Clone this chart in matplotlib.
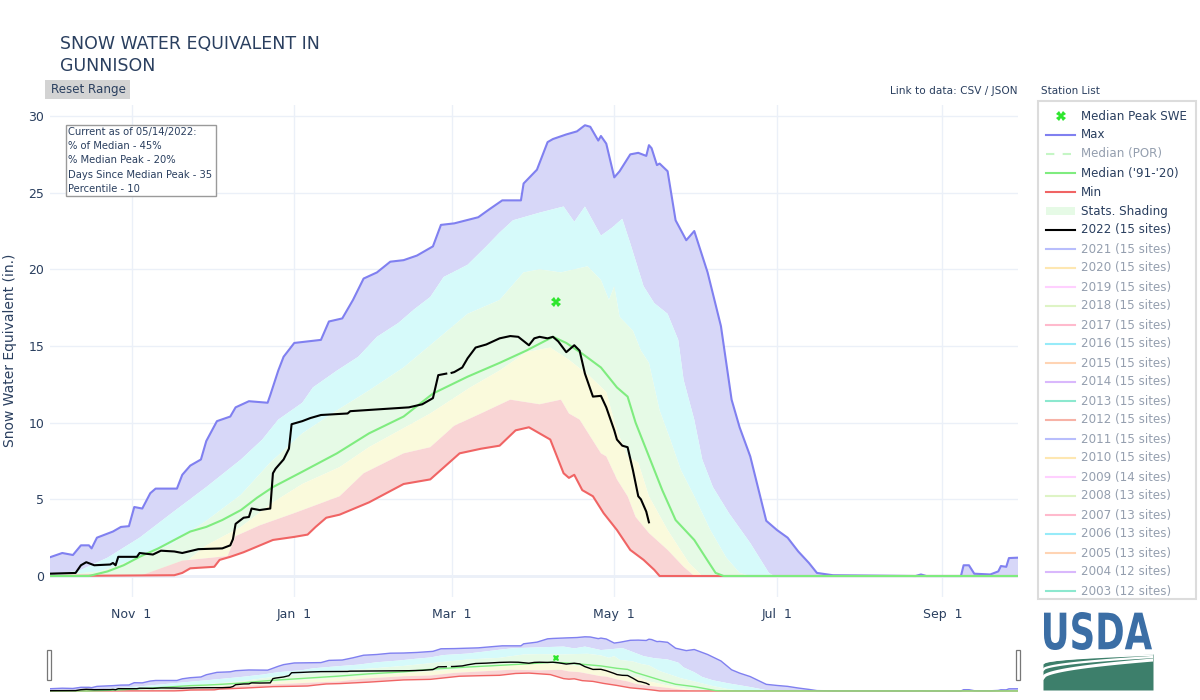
"""Snow water equivalent chart for the Gunnison basin (water year 2022)."""

import numpy as np
import matplotlib

matplotlib.use("Agg")

import matplotlib.pyplot as plt
import matplotlib.dates as mdates
from matplotlib.font_manager import FontProperties
from matplotlib.lines import Line2D
from matplotlib.patches import PathPatch, Rectangle
from matplotlib.textpath import TextPath
from matplotlib.transforms import Affine2D

plt.rcParams["font.family"] = ["DejaVu Sans"]

WY_START = np.datetime64("2021-10-01")

# --- data: days since Oct 1 2021 -> SWE (in.) ---
max_day = [0, 5, 9, 12, 15, 16, 18, 24, 27, 30, 32, 35, 38, 40, 48, 50, 53, 57, 59, 63,
           68, 70, 75, 82, 83, 86, 88, 92, 102, 105, 110, 114, 118, 123, 128, 133, 138,
           144, 147, 152, 161, 165, 170, 177, 178, 183, 187, 189, 194, 198, 201, 203,
           206, 207, 209, 212, 214, 218, 221, 224, 225, 226, 228, 229, 232, 235, 239,
           242, 247, 252, 256, 259, 263, 269, 273, 277, 281, 285, 288, 294, 325, 327,
           329, 342, 343, 345, 347, 353, 356, 357, 359, 360, 364]
max_swe = [1.2, 1.5, 1.37, 2.0, 2.0, 1.8, 2.5, 2.9, 3.2, 3.25, 4.5, 4.4, 5.4, 5.7, 5.7,
           6.6, 7.2, 7.6, 8.8, 10.1, 10.4, 11.0, 11.4, 11.3, 11.8, 13.4, 14.3, 15.2, 15.4,
           16.6, 16.8, 18.0, 19.4, 19.8, 20.5, 20.6, 20.9, 21.5, 22.9, 23.0, 23.4, 23.9,
           24.5, 24.5, 25.6, 26.5, 28.3, 28.5, 28.8, 29.0, 29.4, 29.3, 28.4, 28.7, 28.2,
           26.0, 26.4, 27.5, 27.6, 27.4, 28.1, 27.9, 26.8, 26.9, 26.4, 23.2, 21.9, 22.5,
           19.8, 16.3, 11.5, 9.7, 7.8, 3.6, 3.0, 2.5, 1.6, 0.85, 0.2, 0.05, 0.0, 0.1, 0.0,
           0.0, 0.7, 0.7, 0.15, 0.1, 0.3, 0.65, 0.6, 1.17, 1.2]

p90_day = [0, 12, 22, 34, 46, 59, 72, 80, 86, 95, 99, 108, 116, 123, 131, 137, 143, 148,
           157, 164, 169, 174, 184, 193, 197, 201, 207, 211, 215, 218, 223, 227, 232, 236,
           238, 242, 245, 249, 255, 263, 270, 272, 364]
p90_swe = [0.0, 0.4, 1.2, 2.5, 4.1, 5.8, 7.6, 8.9, 10.2, 11.3, 12.3, 13.4, 14.3, 15.6,
           16.5, 17.4, 18.2, 19.5, 20.3, 21.5, 22.4, 23.2, 23.7, 24.1, 23.1, 24.1, 22.2,
           22.7, 23.3, 21.7, 18.9, 17.8, 17.1, 15.4, 12.8, 10.2, 7.6, 5.8, 4.1, 2.15, 0.2,
           0.0, 0.0]

p70_day = [0, 19, 34, 46, 59, 72, 83, 95, 108, 120, 133, 144, 157, 169, 178, 184, 192,
           202, 207, 210, 212, 214, 219, 222, 225, 229, 233, 237, 242, 248, 254, 259, 263,
           364]
p70_swe = [0.0, 0.3, 1.2, 2.1, 3.6, 5.3, 7.4, 9.3, 10.8, 12.1, 13.6, 15.2, 17.1, 18.0,
           19.8, 20.0, 19.8, 20.2, 19.3, 18.0, 18.9, 16.9, 16.0, 14.7, 13.9, 10.8, 8.9,
           6.9, 5.2, 3.0, 1.2, 0.2, 0.0, 0.0]

median_day = [0, 15, 22, 28, 34, 41, 47, 53, 59, 65, 72, 78, 84, 95, 108, 120, 133, 144,
              157, 169, 179, 189, 194, 200, 207, 213, 217, 220, 225, 230, 235, 242, 247,
              250, 253, 364]
median_swe = [0.0, 0.0, 0.3, 0.7, 1.25, 1.8, 2.35, 2.9, 3.2, 3.65, 4.3, 5.1, 5.8, 6.8,
              8.0, 9.3, 10.4, 11.9, 13.0, 13.9, 14.7, 15.6, 15.2, 14.5, 13.6, 12.3, 11.7,
              10.0, 7.8, 5.6, 3.65, 2.35, 1.0, 0.2, 0.0, 0.0]

p30_day = [0, 38, 47, 59, 72, 84, 95, 109, 120, 143, 158, 169, 179, 188, 195, 203, 209,
           213, 217, 221, 225, 232, 240, 245, 364]
p30_swe = [0.0, 0.0, 0.3, 2.0, 3.2, 4.8, 6.0, 7.1, 8.4, 10.6, 12.3, 13.4, 14.6, 14.9,
           14.1, 13.0, 12.0, 9.5, 7.8, 7.4, 5.2, 3.0, 0.85, 0.0, 0.0]

p10_day = [0, 34, 42, 50, 67, 70, 79, 92, 109, 118, 133, 143, 152, 162, 173, 184, 192,
           195, 199, 203, 207, 209, 213, 217, 220, 225, 232, 238, 242, 364]
p10_swe = [0.0, 0.0, 0.5, 1.0, 1.3, 2.6, 3.3, 4.1, 5.2, 6.7, 8.0, 8.4, 9.8, 10.6, 11.5,
           11.2, 11.5, 10.6, 10.2, 9.1, 8.0, 7.8, 6.3, 5.2, 3.85, 2.8, 1.7, 0.6, 0.0, 0.0]

min_day = [0, 47, 50, 53, 62, 64, 68, 73, 84, 92, 97, 100, 104, 109, 120, 133, 143, 154,
           162, 169, 175, 180, 184, 188, 193, 195, 197, 200, 204, 208, 213, 218, 223, 227,
           229, 364]
min_swe = [0.0, 0.05, 0.2, 0.5, 0.6, 1.05, 1.25, 1.55, 2.35, 2.55, 2.7, 3.2, 3.8, 4.0,
           4.8, 6.0, 6.3, 8.0, 8.3, 8.5, 9.5, 9.7, 9.3, 8.9, 6.7, 6.4, 6.6, 5.6, 5.2, 4.1,
           3.0, 1.7, 1.05, 0.4, 0.0, 0.0]

# NaN marks the short gap in the record in early March
wy2022_day = [0, 10, 12, 14, 17, 23, 24, 25, 26, 33, 34, 39, 42, 47, 50, 56, 65, 68, 69,
              70, 73, 75, 76, 79, 83, 84, 85, 88, 90, 91, 95, 98, 102, 112, 113, 135, 140,
              143, 144, 146, 149, 150, 151, 152, 155, 157, 160, 164, 169, 173, 176, 180,
              182, 184, 187, 189, 191, 194, 197, 199, 201, 204, 207, 209, 212, 213, 215,
              217, 219, 221, 222, 224, 225]
wy2022_swe = [0.15, 0.2, 0.7, 0.9, 0.7, 0.75, 0.85, 0.7, 1.25, 1.25, 1.5, 1.4, 1.65, 1.6,
              1.5, 1.75, 1.8, 2.0, 2.4, 3.4, 3.8, 3.85, 4.4, 4.3, 4.4, 6.7, 7.0, 7.6, 8.3,
              9.9, 10.1, 10.3, 10.5, 10.6, 10.75, 11.0, 11.2, 11.5, 11.6, 13.1, 13.2,
              np.nan, 13.25, 13.3, 13.6, 14.2, 14.9, 15.1, 15.5, 15.65, 15.6, 15.05, 15.5,
              15.6, 15.5, 15.6, 15.3, 14.6, 15.05, 14.7, 13.2, 11.7, 11.75, 11.0, 9.5, 8.9,
              8.5, 8.4, 6.9, 5.2, 5.0, 4.2, 3.5]

median_peak_day = 190
median_peak_swe = 17.9

info_lines = [
    "Current as of 05/14/2022:",
    "% of Median - 45%",
    "% Median Peak - 20%",
    "Days Since Median Peak - 35",
    "Percentile - 10",
]

tick_dates = ["2021-11-01", "2022-01-01", "2022-03-01", "2022-05-01", "2022-07-01", "2022-09-01"]
tick_labels = ["Nov  1", "Jan  1", "Mar  1", "May  1", "Jul  1", "Sep  1"]
y_ticks = [0, 5, 10, 15, 20, 25, 30]

hist_years = list(range(2021, 2002, -1))
hist_sites = [15] * 12 + [14] + [13] * 4 + [12] * 2
hist_colors = ["#636efa", "#FECB52", "#FF97FF", "#B6E880", "#FF6692",
               "#19d3f3", "#FFA15A", "#ab63fa", "#00cc96", "#EF553B"]

# --- styles ---
TEXT_C = "#2a3f5f"
GRID_C = "#ebf0f8"
MAX_C = "#8080f0"
MED_C = "#7fec7f"
MIN_C = "#f06464"
PEAK_C = "#2ee62e"
BAND_COLORS = ["#d7d7f8", "#d6fafa", "#e6fae6", "#fafadc", "#f9d5d5"]

NUM0 = mdates.date2num(WY_START)


def xd(days):
    return NUM0 + np.asarray(days, dtype=float)


def draw_swe(ax, lw, ms):
    curves = [(max_day, max_swe), (p90_day, p90_swe), (p70_day, p70_swe),
              (p30_day, p30_swe), (p10_day, p10_swe), (min_day, min_swe)]
    for (du, su), (dl, sl), color in zip(curves[:-1], curves[1:], BAND_COLORS):
        xs = np.r_[xd(du), xd(dl)[::-1]]
        ys = np.r_[np.asarray(su), np.asarray(sl)[::-1]]
        ax.fill(xs, ys, color=color, lw=0, zorder=1)
    ax.plot(xd(max_day), max_swe, color=MAX_C, lw=lw, zorder=3)
    ax.plot(xd(min_day), min_swe, color=MIN_C, lw=lw, zorder=3)
    ax.plot(xd(median_day), median_swe, color=MED_C, lw=lw, zorder=3)
    ax.plot(xd(wy2022_day), wy2022_swe, color="black", lw=lw, zorder=4)
    ax.plot(xd([median_peak_day]), [median_peak_swe], marker="X", color=PEAK_C,
            ms=ms, mew=0, ls="none", zorder=5)
    ax.set_xlim(NUM0 + 0.4, NUM0 + 363.4)


fig = plt.figure(figsize=(12, 7), dpi=100)

# main plot
ax = fig.add_axes([50 / 1200, 1 - 597 / 700, 968 / 1200, 492 / 700])
draw_swe(ax, 1.5, 7)
ax.set_ylim(-1.37, 30.72)
ax.set_yticks(y_ticks)
ax.set_xticks([mdates.date2num(np.datetime64(d)) for d in tick_dates])
ax.set_xticklabels(tick_labels)
ax.grid(color=GRID_C, lw=1, zorder=0)
ax.set_axisbelow(True)
ax.axhline(0, color=GRID_C, lw=2, zorder=0.5)
for side in ax.spines.values():
    side.set_visible(False)
ax.tick_params(axis="y", length=0, pad=4, labelsize=9, labelcolor=TEXT_C)
ax.tick_params(axis="x", length=0, pad=8, labelsize=9, labelcolor=TEXT_C)

# range slider
mini = fig.add_axes([50 / 1200, 1 - 693 / 700, 968 / 1200, 61 / 700])
draw_swe(mini, 1.0, 5)
mini.set_ylim(-1.1, 32)
mini.axis("off")

# overlay in pixel coordinates
ov = fig.add_axes([0, 0, 1, 1])
ov.set_xlim(0, 1200)
ov.set_ylim(700, 0)
ov.axis("off")

ov.text(60, 44, "SNOW WATER EQUIVALENT IN", fontsize=12.5, color=TEXT_C, va="center")
ov.text(60, 66, "GUNNISON", fontsize=12.5, color=TEXT_C, va="center")

ov.add_patch(Rectangle((45, 80), 85, 19, facecolor="#d3d3d3", edgecolor="none"))
ov.text(88, 89.5, "Reset Range", fontsize=8.6, color=TEXT_C, ha="center", va="center")

ov.text(10, 350, "Snow Water Equivalent (in.)", fontsize=10, color=TEXT_C,
        rotation=90, ha="center", va="center")

ov.text(1017, 91, "Link to data: CSV / JSON", fontsize=7.6, color=TEXT_C,
        ha="right", va="center")
ov.text(1041, 91, "Station List", fontsize=7.5, color=TEXT_C, va="center")

# info box
ov.add_patch(Rectangle((66, 125), 150, 71, facecolor="white", edgecolor="#9a9a9a", lw=1))
for i, line in enumerate(info_lines):
    ov.text(68, 132 + i * 14.2, line, fontsize=7.2, color=TEXT_C, va="center")

# range slider handles
for hx in (47, 1016):
    ov.add_patch(Rectangle((hx, 650), 4, 30, facecolor="white", edgecolor="#777777", lw=0.9))

# legend
ov.add_patch(Rectangle((1038, 101), 158, 498, facecolor="white", edgecolor="#dcdcdc", lw=1.5))
row_y = 116
row_step = 19
lx0, lx1, tx = 1046, 1075, 1081
legend_rows = [
    ("Median Peak SWE", "marker", PEAK_C, 1.0),
    ("Max", "line", MAX_C, 1.0),
    ("Median (POR)", "dash", MED_C, 0.45),
    ("Median ('91-'20)", "line", MED_C, 1.0),
    ("Min", "line", MIN_C, 1.0),
    ("Stats. Shading", "band", "#e6fae6", 1.0),
    ("2022 (15 sites)", "line", "black", 1.0),
]
for i, (yr, n) in enumerate(zip(hist_years, hist_sites)):
    legend_rows.append((f"{yr} ({n} sites)", "line", hist_colors[i % len(hist_colors)], 0.45))

for i, (label, kind, color, alpha) in enumerate(legend_rows):
    y = row_y + i * row_step
    if kind == "marker":
        ov.plot([(lx0 + lx1) / 2], [y], marker="X", color=color, ms=7, mew=0)
    elif kind == "line":
        ov.add_line(Line2D([lx0, lx1], [y, y], color=color, lw=1.5, alpha=alpha))
    elif kind == "dash":
        ov.add_line(Line2D([lx0, lx1], [y, y], color=color, lw=1.5, alpha=alpha,
                           dashes=(4, 4)))
    else:
        ov.add_patch(Rectangle((lx0, y - 4), lx1 - lx0, 8, facecolor=color, edgecolor="none"))
    ov.text(tx, y, label, fontsize=8.6, color=TEXT_C, alpha=1.0 if alpha == 1.0 else 0.5,
            va="center")

# USDA logo
logo = fig.add_axes([1043 / 1200, 1 - 690 / 700, 110 / 1200, 80 / 700])
logo.set_xlim(0, 110)
logo.set_ylim(0, 80)
logo.axis("off")
tp = TextPath((0, 0), "USDA", size=1, prop=FontProperties(family="DejaVu Sans", weight="bold"))
bb = tp.get_extents()
sx = 108 / bb.width
sy = 38 / bb.height
tr = Affine2D().translate(-bb.x0, -bb.y0).scale(sx, sy).translate(1, 40)
logo.add_patch(PathPatch(tr.transform_path(tp), facecolor="#3b6ea5", edgecolor="none"))
gx = np.linspace(0, 110, 60)
logo.fill_between(gx, 0, 26 + 10 * np.sqrt(gx / 110), color="#3d7f6b", lw=0)
logo.plot(gx, 12 + 18 * np.sqrt(gx / 110), color="white", lw=2.2)
logo.plot(gx, 20 + 13 * np.sqrt(gx / 110), color="white", lw=1.6)
logo.plot(gx, 27 + 8 * np.sqrt(gx / 110), color="white", lw=1.2)

fig.savefig("out.png", dpi=100)
plt.close(fig)
